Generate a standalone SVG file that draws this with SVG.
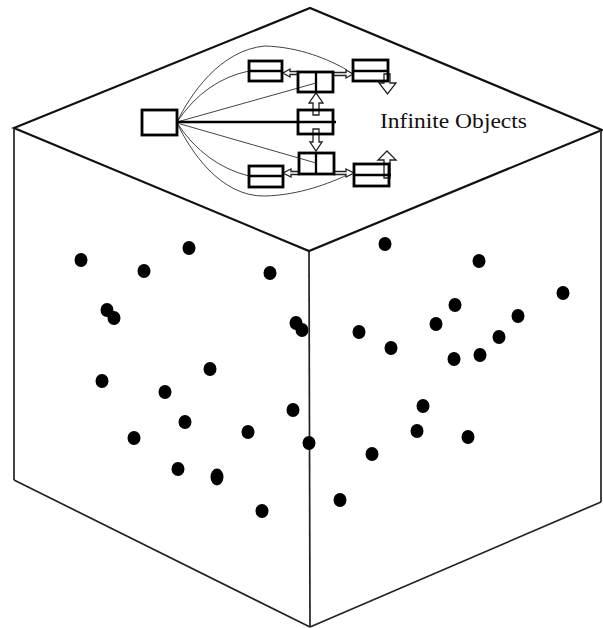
<svg xmlns="http://www.w3.org/2000/svg" width="603" height="628" viewBox="0 0 603 628">
<style>
.edge{fill:none;stroke:#111;stroke-width:2.2;stroke-linejoin:miter}
.vert{fill:none;stroke:#222;stroke-width:1.7}
.dot{fill:#000}
.box{fill:none;stroke:#000;stroke-width:2.8}
.div{fill:none;stroke:#000;stroke-width:2.3}
.thin{fill:none;stroke:#444;stroke-width:1}
.main{fill:none;stroke:#000;stroke-width:2.4}
.harrow{fill:#fff;stroke:#222;stroke-width:1.3;stroke-linejoin:miter}
.label{font-family:"Liberation Serif","DejaVu Serif",serif;font-size:22px;fill:#111}
</style>
<rect width="603" height="628" fill="#fff"/>
<g id="cube">
  <polygon class="edge" points="14,128 310,8 602,130 309,251"/>
  <line class="vert" x1="14" y1="128" x2="14" y2="480"/>
  <line class="vert" x1="14" y1="480" x2="310" y2="627"/>
  <line class="vert" x1="309" y1="251" x2="310" y2="627"/>
  <line class="vert" x1="601" y1="130" x2="601" y2="502"/>
  <line class="vert" x1="310" y1="627" x2="601" y2="502"/>
</g>
<g id="dots">
  <ellipse class="dot" cx="81" cy="260" rx="6.5" ry="7"/>
  <ellipse class="dot" cx="189" cy="248" rx="6.5" ry="7"/>
  <ellipse class="dot" cx="144" cy="271" rx="6.5" ry="7"/>
  <ellipse class="dot" cx="270" cy="273" rx="6.5" ry="7"/>
  <ellipse class="dot" cx="107" cy="310" rx="6.5" ry="7"/>
  <ellipse class="dot" cx="114" cy="318" rx="6.5" ry="7"/>
  <ellipse class="dot" cx="296" cy="323" rx="6.5" ry="7"/>
  <ellipse class="dot" cx="302" cy="330" rx="6.5" ry="7"/>
  <ellipse class="dot" cx="102" cy="381" rx="6.5" ry="7"/>
  <ellipse class="dot" cx="210" cy="369" rx="6.5" ry="7"/>
  <ellipse class="dot" cx="165" cy="392" rx="6.5" ry="7"/>
  <ellipse class="dot" cx="293" cy="410" rx="6.5" ry="7"/>
  <ellipse class="dot" cx="185" cy="422" rx="6.5" ry="7"/>
  <ellipse class="dot" cx="248" cy="432" rx="6.5" ry="7"/>
  <ellipse class="dot" cx="134" cy="438" rx="6.5" ry="7"/>
  <ellipse class="dot" cx="309" cy="443" rx="6.5" ry="7"/>
  <ellipse class="dot" cx="178" cy="469" rx="6.5" ry="7"/>
  <ellipse class="dot" cx="217" cy="477" rx="6.5" ry="8.5"/>
  <ellipse class="dot" cx="262" cy="511" rx="6.5" ry="7"/>
  <ellipse class="dot" cx="385" cy="244" rx="6.5" ry="7"/>
  <ellipse class="dot" cx="479" cy="261" rx="6.5" ry="7"/>
  <ellipse class="dot" cx="563" cy="293" rx="6.5" ry="7"/>
  <ellipse class="dot" cx="455" cy="305" rx="6.5" ry="7"/>
  <ellipse class="dot" cx="518" cy="316" rx="6.5" ry="7"/>
  <ellipse class="dot" cx="436" cy="324" rx="6.5" ry="7"/>
  <ellipse class="dot" cx="359" cy="332" rx="6.5" ry="7"/>
  <ellipse class="dot" cx="499" cy="337" rx="6.5" ry="7"/>
  <ellipse class="dot" cx="391" cy="348" rx="6.5" ry="7"/>
  <ellipse class="dot" cx="480" cy="355" rx="6.5" ry="7"/>
  <ellipse class="dot" cx="454" cy="359" rx="6.5" ry="7"/>
  <ellipse class="dot" cx="423" cy="406" rx="6.5" ry="7"/>
  <ellipse class="dot" cx="417" cy="431" rx="6.5" ry="7"/>
  <ellipse class="dot" cx="468" cy="437" rx="6.5" ry="7"/>
  <ellipse class="dot" cx="372" cy="454" rx="6.5" ry="7"/>
  <ellipse class="dot" cx="340" cy="500" rx="6.5" ry="7"/>
</g>
<g id="connectors">
  <path class="thin" d="M177,122 C190,95 220,50 265,46 C300,47 330,60 347,70"/>
  <path class="thin" d="M177,122 Q205,80 249,71"/>
  <path class="thin" d="M177,122 L316,83"/>
  <path class="main" d="M177,122 L336,122"/>
  <path class="thin" d="M177,123 L316,163"/>
  <path class="thin" d="M177,123 Q205,165 249,176"/>
  <path class="thin" d="M177,123 C190,150 220,197 265,196 C300,195 330,183 347,175"/>
  <polygon class="harrow" points="313,115 313,103 309,103 316,93 323,103 319,103 319,115"/>
  <polygon class="harrow" points="313,129 313,142 310,142 316,151 322,142 319,142 319,129"/>
  <polygon class="harrow" points="384,74 384,83 379,83 387.5,94 396,83 390,83 390,74"/>
  <polygon class="harrow" points="384,178 384,160 378,160 387,151 396,160 390,160 390,178"/>
  <polygon class="harrow" points="298,71.5 290,71.5 290,69 283,73 290,77 290,74.5 298,74.5"/>
  <polygon class="harrow" points="333,72.5 346,72.5 346,70 353,74 346,78 346,75.5 333,75.5"/>
  <polygon class="harrow" points="299,171.5 291,171.5 291,169 283,173 291,177 291,174.5 299,174.5"/>
  <polygon class="harrow" points="334,171.5 346,171.5 346,169 354,173 346,177 346,174.5 334,174.5"/>
</g>
<g id="source">
  <rect class="box" x="142" y="110" width="35" height="25"/>
</g>
<g id="node-tl">
  <rect class="box" x="249" y="61" width="33" height="20"/>
  <line class="div" x1="249" y1="71" x2="282" y2="71"/>
</g>
<g id="node-tm">
  <rect class="box" x="298" y="72" width="35" height="20"/>
  <line class="div" x1="316" y1="72" x2="316" y2="92"/>
</g>
<g id="node-m">
  <rect class="box" x="298" y="110" width="35" height="24"/>
</g>
<g id="node-bm">
  <rect class="box" x="299" y="153" width="35" height="21"/>
  <line class="div" x1="316" y1="153" x2="316" y2="174"/>
</g>
<g id="node-bl">
  <rect class="box" x="249" y="166" width="34" height="21"/>
  <line class="div" x1="249" y1="176" x2="283" y2="176"/>
</g>
<g id="node-tr">
  <rect class="box" x="353" y="60" width="35" height="21"/>
  <line class="div" x1="353" y1="71" x2="388" y2="71"/>
</g>
<g id="node-br">
  <rect class="box" x="354" y="164" width="35" height="22"/>
  <line class="div" x1="354" y1="175" x2="391" y2="175"/>
</g>
<g id="label">
  <text class="label" x="380" y="128" textLength="147" lengthAdjust="spacingAndGlyphs">Infinite Objects</text>
</g>
</svg>
